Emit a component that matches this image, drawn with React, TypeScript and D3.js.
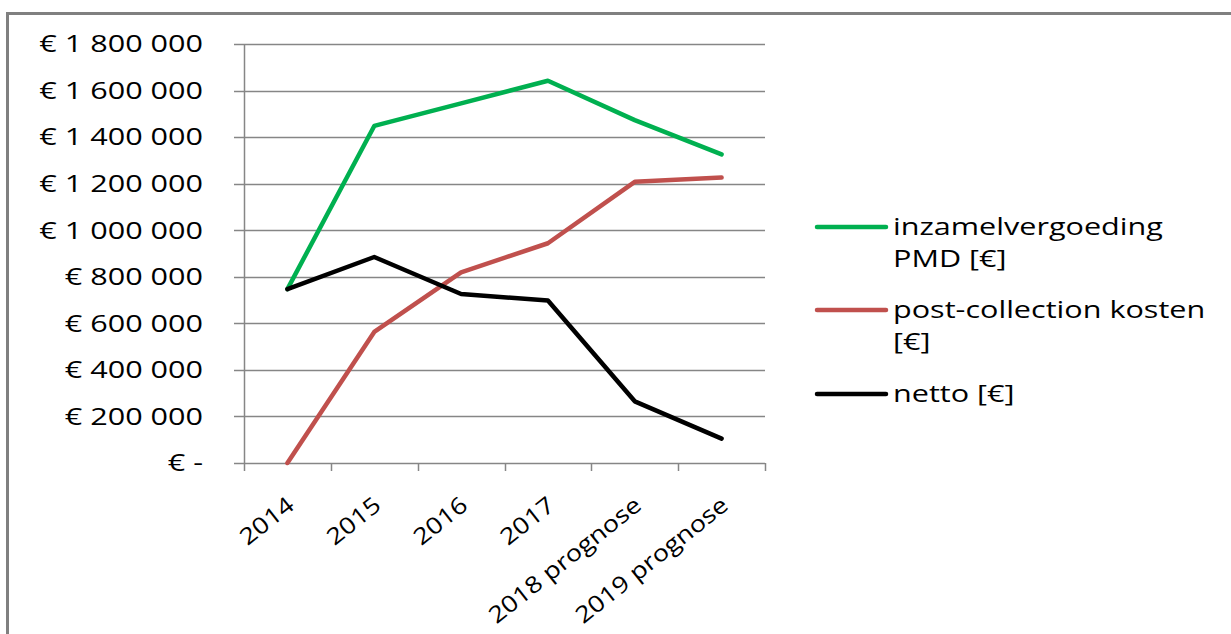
import React from "react";
import * as d3 from "d3";

const years = ["2014", "2015", "2016", "2017", "2018 prognose", "2019 prognose"];
const inzamel = [747000, 1448000, 1545000, 1642000, 1473000, 1326000];
const postCollection = [0, 563000, 819000, 944000, 1208000, 1226000];
const netto = [747000, 885000, 726000, 698000, 265000, 105000];
const yTicks = [0, 200000, 400000, 600000, 800000, 1000000, 1200000, 1400000, 1600000, 1800000];

const seriesNames = [
  ["inzamelvergoeding", "PMD [€]"],
  ["post-collection kosten", "[€]"],
  ["netto [€]"],
];
const seriesColors = ["#00b050", "#c0504d", "#000000"];

const W = 1231;
const H = 634;
const FONT = "'Open Sans', sans-serif";
const SX = 1.33;

const fmt = (v: number) =>
  v === 0 ? "€ -" : "€ " + d3.format(",")(v).replace(/,/g, " ");

export default function App() {
  const ref = React.useRef<SVGSVGElement>(null);

  React.useEffect(() => {
    const svg = d3.select(ref.current);
    svg.selectAll("*").remove();

    const x = d3.scaleBand().domain(years).range([244, 765]);
    const y = d3.scaleLinear().domain([0, 1800000]).range([463, 44]);
    const cx = (d: string) => (x(d) as number) + x.bandwidth() / 2;

    // outer frame
    svg.append("rect")
      .attr("x", 7.5).attr("y", 13.5)
      .attr("width", W + 20).attr("height", H + 20)
      .attr("fill", "none").attr("stroke", "#808080").attr("stroke-width", 3);

    // gridlines
    svg.append("g").selectAll("line").data(yTicks).join("line")
      .attr("x1", 234).attr("x2", 765)
      .attr("y1", d => Math.round(y(d)) + 0.5).attr("y2", d => Math.round(y(d)) + 0.5)
      .attr("stroke", "#868686").attr("stroke-width", 1.5);

    // y axis line
    svg.append("line")
      .attr("x1", 244.5).attr("x2", 244.5).attr("y1", y(1800000)).attr("y2", y(0))
      .attr("stroke", "#868686").attr("stroke-width", 1.5);

    // x ticks
    const bounds = years.map(d => x(d) as number).concat([765]);
    svg.append("g").selectAll("line").data(bounds).join("line")
      .attr("x1", d => Math.round(d) + 0.5).attr("x2", d => Math.round(d) + 0.5)
      .attr("y1", y(0)).attr("y2", y(0) + 8)
      .attr("stroke", "#868686").attr("stroke-width", 1.5);

    // y labels
    svg.append("g").selectAll("text").data(yTicks).join("text")
      .attr("transform", d => `translate(203,${y(d)}) scale(${SX},1)`)
      .attr("dy", "0.36em")
      .attr("text-anchor", "end")
      .attr("font-family", FONT).attr("font-size", 23).attr("fill", "#000")
      .text(d => fmt(d));

    // x labels
    svg.append("g").selectAll("text").data(years).join("text")
      .attr("transform", d => `translate(${cx(d) - 2},495) rotate(-38.5) scale(1.17,1)`)
      .attr("dy", "0.72em")
      .attr("text-anchor", "end")
      .attr("font-family", FONT).attr("font-size", 23).attr("fill", "#000")
      .text(d => d);

    // lines
    const line = d3.line<number>()
      .x((_, i) => cx(years[i]))
      .y(d => y(d));
    [inzamel, postCollection, netto].forEach((s, i) => {
      svg.append("path")
        .datum(s)
        .attr("d", line)
        .attr("fill", "none")
        .attr("stroke", seriesColors[i])
        .attr("stroke-width", 4.5)
        .attr("stroke-linejoin", "round")
        .attr("stroke-linecap", "round");
    });

    // legend
    const legendY = [227, 310, 394];
    const lg = svg.append("g");
    seriesNames.forEach((lines, i) => {
      lg.append("line")
        .attr("x1", 817).attr("x2", 886)
        .attr("y1", legendY[i]).attr("y2", legendY[i])
        .attr("stroke", seriesColors[i]).attr("stroke-width", 4.5)
        .attr("stroke-linecap", "round");
      lines.forEach((t, j) => {
        lg.append("text")
          .attr("transform", `translate(893,${legendY[i] + j * 32}) scale(${SX},1)`)
          .attr("dy", "0.36em")
          .attr("font-family", FONT).attr("font-size", 23).attr("fill", "#000")
          .text(t);
      });
    });
  }, []);

  return (
    <svg
      ref={ref}
      width={W}
      height={H}
      style={{ position: "absolute", left: 0, top: 0, background: "#fff" }}
    />
  );
}
